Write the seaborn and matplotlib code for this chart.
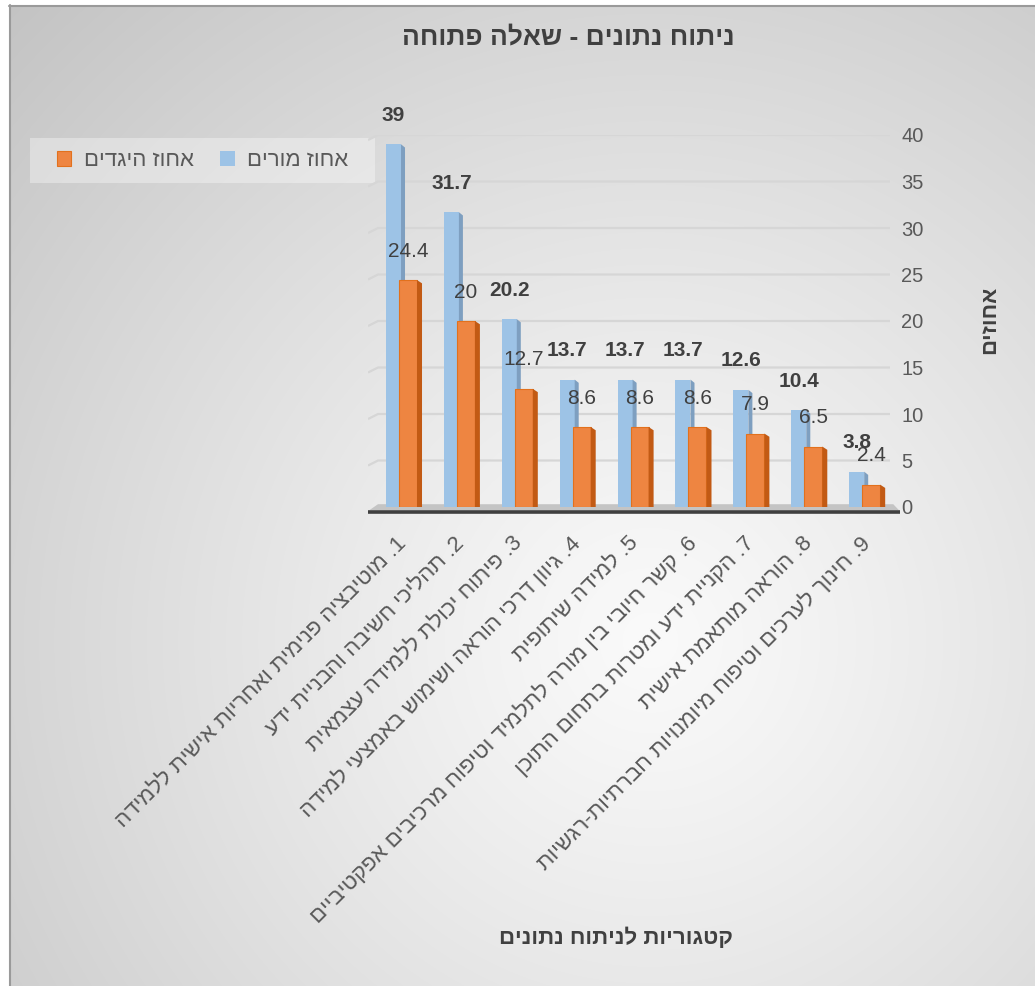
import re
import numpy as np
import pandas as pd
import matplotlib
matplotlib.use("Agg")
import matplotlib.pyplot as plt
import seaborn as sns
from matplotlib.patches import Rectangle, Polygon
from matplotlib.lines import Line2D

# ---- data -------------------------------------------------------------
categories = [
    "1. מוטיבציה פנימית ואחריות אישית ללמידה",
    "2. תהליכי חשיבה והבניית ידע",
    "3. פיתוח יכולת ללמידה עצמאית",
    "4. גיוון דרכי הוראה ושימוש באמצעי למידה",
    "5. למידה שיתופית",
    "6. קשר חיובי בין מורה לתלמיד וטיפוח מרכיבים אפקטיביים",
    "7. הקניית ידע ומטרות בתחום התוכן",
    "8. הוראה מותאמת אישית",
    "9. חינוך לערכים וטיפוח מיומנויות חברתיות-רגשיות",
]
teachers_pct = [39, 31.7, 20.2, 13.7, 13.7, 13.7, 12.6, 10.4, 3.8]
statements_pct = [24.4, 20, 12.7, 8.6, 8.6, 8.6, 7.9, 6.5, 2.4]
series_names = ["אחוז מורים", "אחוז היגדים"]
y_ticks = [0, 5, 10, 15, 20, 25, 30, 35, 40]
chart_title = "ניתוח נתונים - שאלה פתוחה"
x_title = "קטגוריות לניתוח נתונים"
y_title = "אחוזים"

BLUE = "#9DC3E6"
BLUE_SIDE = "#7E9FC0"
ORANGE = "#EE8541"
ORANGE_EDGE = "#E2711D"
ORANGE_SIDE = "#C25A14"
TEXT = "#404040"
TICK = "#595959"


def visual(s):
    """Reorder right-to-left text for a left-to-right renderer (numbers keep their order)."""
    parts = re.findall(r"\d+(?:\.\d+)?|.", s)
    return "".join(reversed(parts))


sns.set_theme(style="white")
plt.rcParams["font.family"] = ["Liberation Sans", "DejaVu Sans"]

W, H = 1035, 986
fig = plt.figure(figsize=(W / 100, H / 100), dpi=100, facecolor="white")

# ---- chart-area background: soft radial gradient, border on top/left ----
BW, BH = W - 9, H - 5
gx, gy = np.meshgrid(np.arange(BW), np.arange(BH))
d = np.hypot(gx + 9 - 650, gy + 5 - 640) / 920.0
shade = np.clip(250 - 56 * d ** 1.15, 0, 255) / 255.0
fig.figimage(np.dstack([shade, shade, shade]), xo=9, yo=0, origin="upper", zorder=-10)
fig.add_artist(Line2D([9.5 / W, 9.5 / W], [0, 1 - 5 / H], transform=fig.transFigure,
                      color="#9a9a9a", lw=1.5))
fig.add_artist(Line2D([9 / W, 1], [1 - 5.5 / H, 1 - 5.5 / H], transform=fig.transFigure,
                      color="#9a9a9a", lw=1.5))

# ---- plot axes ---------------------------------------------------------
step = 57.9  # pixels per category
x_left, x_right = -0.622, 8.394
ax = fig.add_axes([368 / W, (H - 507) / H, 522 / W, 372 / H])
ax.set_facecolor("none")

df = pd.DataFrame({
    "category": list(range(len(categories))) * 2,
    "series": [series_names[0]] * len(categories) + [series_names[1]] * len(categories),
    "value": teachers_pct + statements_pct,
})
sns.barplot(data=df, x="category", y="value", hue="series",
            hue_order=series_names, palette=[BLUE, ORANGE],
            saturation=1, dodge=True, legend=False, ax=ax, errorbar=None)

# bar geometry (in category units) for the pseudo-3D look
geom = {
    0: dict(off=-18 / step, w=15 / step, side=4 / step, face=BLUE, side_c=BLUE_SIDE, edge="none", z=2),
    1: dict(off=-5 / step, w=18 / step, side=5 / step, face=ORANGE, side_c=ORANGE_SIDE, edge=ORANGE_EDGE, z=3),
}
drop = 0.35  # slant of the side face top, in value units
for k, cont in enumerate(ax.containers[:2]):
    g = geom[k]
    for i, p in enumerate(cont.patches):
        h = p.get_height()
        x0 = i + g["off"]
        p.set_x(x0)
        p.set_width(g["w"])
        p.set_facecolor(g["face"])
        p.set_edgecolor(g["edge"])
        p.set_linewidth(0.8 if g["edge"] != "none" else 0)
        p.set_zorder(g["z"])
        side = Polygon([(x0 + g["w"], 0), (x0 + g["w"] + g["side"], 0),
                        (x0 + g["w"] + g["side"], max(h - drop, 0)), (x0 + g["w"], h)],
                       closed=True, facecolor=g["side_c"], edgecolor="none", zorder=g["z"] + 0.1)
        ax.add_patch(side)

# value labels
ax.bar_label(ax.containers[0], labels=[f"{v:g}" for v in teachers_pct], padding=14,
             fontsize=15, fontweight="bold", color=TEXT, zorder=6)
ax.bar_label(ax.containers[1], labels=[f"{v:g}" for v in statements_pct], padding=14,
             fontsize=15, color=TEXT, zorder=6)

ax.set_xlim(x_left, x_right)
ax.set_ylim(0, 40)

# gridlines with a short receding stub on the left wall
for yv in y_ticks[1:]:
    ax.plot([x_left, -0.449, x_right], [yv - 0.54, yv, yv], color="#d6d6d6", lw=1.6,
            zorder=1, solid_capstyle="butt")

# floor
floor = Polygon([(-0.60, -0.35), (8.55, -0.35), (8.45, 0.3), (-0.45, 0.3)], closed=True,
                facecolor="#c4c4c4", edgecolor="none", zorder=1.5, clip_on=False)
ax.add_patch(floor)
ax.plot([x_left, 8.57], [-0.55, -0.55], color="#3f3f3f", lw=2.6, zorder=1.6,
        clip_on=False, solid_capstyle="butt")

for s in ax.spines.values():
    s.set_visible(False)

ax.yaxis.tick_right()
ax.set_yticks(y_ticks)
ax.set_yticklabels([str(t) for t in y_ticks])
ax.tick_params(axis="y", length=0, pad=8, labelsize=14.5, labelcolor=TICK)
ax.set_xticks(range(len(categories)))
ax.set_xticklabels([visual(c) for c in categories], rotation=45, ha="right", va="center",
                   rotation_mode="anchor")
ax.tick_params(axis="x", length=0, pad=24, labelsize=16, labelcolor=TICK)
ax.set_xlabel("")
ax.set_ylabel("")

# titles
fig.text(568 / W, 1 - 37 / H, visual(chart_title), ha="center", va="center",
         fontsize=19, fontweight="bold", color=TEXT)
fig.text(616 / W, 1 - 938 / H, visual(x_title), ha="center", va="center",
         fontsize=16, fontweight="bold", color=TEXT)
fig.text(990 / W, 1 - 320 / H, visual(y_title), ha="center", va="center", rotation=90,
         fontsize=16, fontweight="bold", color=TEXT)

# legend on a pale panel
fig.patches.append(Rectangle((30 / W, 1 - 183 / H), 345 / W, 45 / H, transform=fig.transFigure,
                             facecolor="white", alpha=0.35, edgecolor="none", zorder=-5))
handles = [Rectangle((0, 0), 1, 1, facecolor=ORANGE, edgecolor=ORANGE_EDGE, lw=0.8),
           Rectangle((0, 0), 1, 1, facecolor=BLUE, edgecolor="none")]
fig.legend(handles, [visual(series_names[1]), visual(series_names[0])], ncol=2,
           loc="center", bbox_to_anchor=(202.5 / W, 1 - 160.5 / H), frameon=False,
           fontsize=16, labelcolor=TICK, handlelength=0.65, handleheight=0.65,
           handletextpad=0.55, columnspacing=1.2)

fig.savefig("out.png", dpi=100, facecolor="white")
